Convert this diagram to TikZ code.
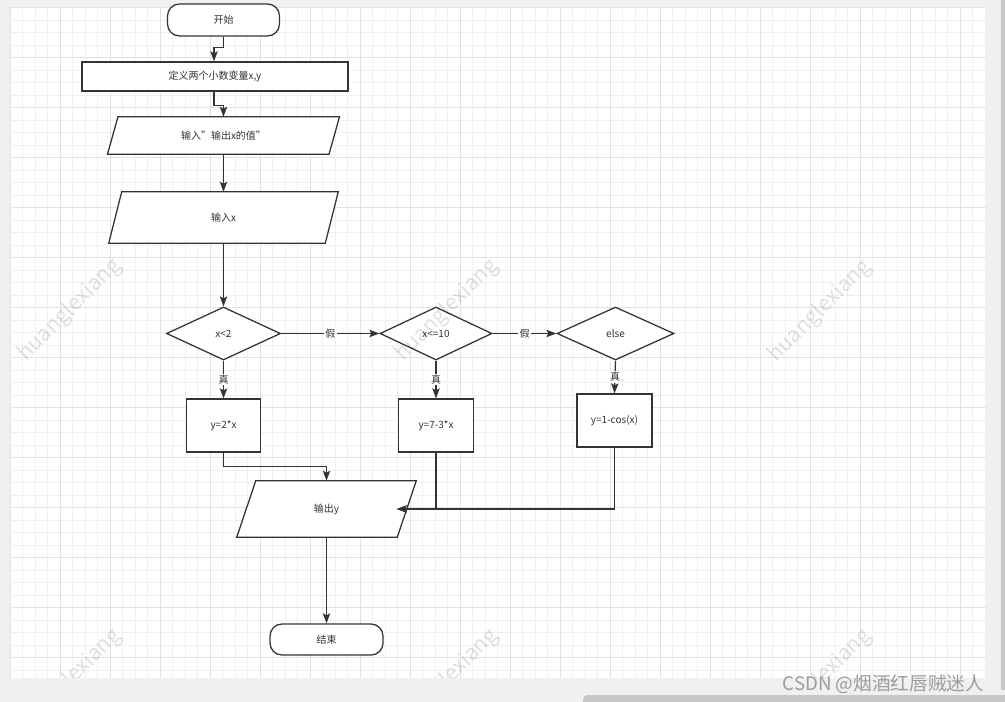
\documentclass[tikz,border=0pt]{standalone}
\usepackage{fontspec}
\setmainfont{Noto Sans CJK SC}
\usetikzlibrary{shapes.geometric,arrows.meta}
\definecolor{ink}{HTML}{333333}
\definecolor{minorgrid}{HTML}{F0F0F0}
\definecolor{majorgrid}{HTML}{E2E2E2}
\definecolor{frame}{HTML}{F0F0F0}
\definecolor{barcol}{HTML}{C8C8C8}
\definecolor{csdn}{HTML}{9C9C9C}
\begin{document}
\begin{tikzpicture}[x=0.75pt,y=-0.75pt,
  txt/.style={font=\fontsize{7.5}{9}\selectfont, text=ink},
  shp/.style={txt, draw=ink, line width=0.95pt, fill=white, inner sep=0pt},
  term/.style={shp, rectangle, rounded corners=9pt},
  box/.style={shp, rectangle},
  dia/.style={shp, diamond},
  para/.style={txt, rectangle, draw=none, inner sep=0pt},
  paraline/.style={draw=ink, line width=0.95pt, fill=white},
  arr/.style={draw=ink, line width=0.95pt, -{Stealth[length=7.5pt,width=5.5pt,inset=1.5pt]}},
  lbl/.style={txt, fill=white, inner sep=1pt},
  minorl/.style={draw=minorgrid, line width=0.75pt},
  majorl/.style={draw=majorgrid, line width=0.75pt},
  wm/.style={font=\fontsize{16}{18}\selectfont, text=black, opacity=0.12, rotate=45}
]
\useasboundingbox (0,0) rectangle (1005,702);
% frame and canvas
\fill[frame] (0,0) rectangle (1005,702);
\fill[barcol] (1001,0) rectangle (1005,690);
\fill[barcol, rounded corners=3pt] (583,695) rectangle (1010,708);
\fill[white] (10,7.7) rectangle (985.5,677.7);
% grid
\foreach \i in {0,...,78}{\pgfmathsetmacro\xx{10+12.5*\i}\draw[minorl] (\xx,7.7) -- (\xx,677.7);}
\foreach \j in {0,...,53}{\pgfmathsetmacro\yy{7.7+12.5*\j}\draw[minorl] (10,\yy) -- (985.5,\yy);}
\foreach \i in {0,4,...,76}{\pgfmathsetmacro\xx{10+12.5*\i}\draw[majorl] (\xx,7.7) -- (\xx,677.7);}
\foreach \j in {0,4,...,52}{\pgfmathsetmacro\yy{7.7+12.5*\j}\draw[majorl] (10,\yy) -- (985.5,\yy);}

% nodes
\node[term, minimum width=84pt, minimum height=24pt] (start) at (223.5,20) {开始};
\node[box, minimum width=199.5pt, minimum height=21.75pt] (def) at (215,76.5) {定义两个小数变量x,y};

\node[para, minimum width=165.75pt, minimum height=27.75pt] (p1) at (223.5,135.5) {};
\draw[paraline] ([xshift=3.94pt]p1.north west) -- ([xshift=3.94pt]p1.north east) -- ([xshift=-3.94pt]p1.south east) -- ([xshift=-3.94pt]p1.south west) -- cycle;
\node[txt] at (p1.center) {输入"输出x的值"};

\node[para, minimum width=162pt, minimum height=38.25pt] (p2) at (223.5,217.5) {};
\draw[paraline] ([xshift=4.875pt]p2.north west) -- ([xshift=4.875pt]p2.north east) -- ([xshift=-4.875pt]p2.south east) -- ([xshift=-4.875pt]p2.south west) -- cycle;
\node[txt] at (p2.center) {输入x};

\node[dia, minimum width=85.5pt, minimum height=39.75pt] (d1) at (223.5,333.5) {x<2};
\node[dia, minimum width=84pt, minimum height=39.75pt] (d2) at (436,333.5) {x<=10};
\node[dia, minimum width=87.75pt, minimum height=39.75pt] (d3) at (615.5,333.5) {else};

\node[box, minimum width=55.5pt, minimum height=39.75pt] (b1) at (223.5,425.5) {y=2*x};
\node[box, minimum width=56.25pt, minimum height=39.75pt] (b2) at (436,425.5) {y=7-3*x};
\node[box, minimum width=56.25pt, minimum height=39.75pt] (b3) at (614.5,420.5) {y=1-cos(x)};

\node[para, minimum width=120pt, minimum height=42pt] (out) at (326.5,509) {};
\draw[paraline] ([xshift=7.125pt]out.north west) -- ([xshift=7.125pt]out.north east) -- ([xshift=-7.125pt]out.south east) -- ([xshift=-7.125pt]out.south west) -- cycle;
\node[txt] at (out.center) {输出y};

\node[term, minimum width=84.75pt, minimum height=23.25pt] (end) at (326.5,639.5) {结束};

% connectors
\draw[arr] (start.south) -- ++(0,11) -| ([xshift=-0.75pt]def.north);
\draw[arr] ([xshift=-0.75pt]def.south) -- ++(0,14) -| (p1.north);
\draw[arr] (p1.south) -- (p2.north);
\draw[arr] (p2.south) -- (d1.north);
\draw[arr] (d1.east) -- node[lbl] {假} (d2.west);
\draw[arr] (d2.east) -- node[lbl] {假} (d3.west);
\draw[arr] (d1.south) -- node[lbl] {真} (b1.north);
\draw[arr] (d2.south) -- node[lbl] {真} (b2.north);
\draw[arr] (d3.south) -- node[lbl] {真} (b3.north);
\draw[arr] (b1.south) -- ++(0,13.5) -| (out.north);
\draw[arr, shorten >=-7.5pt] (b2.south) |- (out.east);
\draw[arr, shorten >=-7.5pt] (b3.south) |- (out.east);
\draw[arr] (out.south) -- (end.north);

% watermarks
\begin{scope}
\clip (10,7.7) rectangle (985.5,677.7);
\foreach \wx/\wy in {70/310, 447/310, 820/311}
  \node[wm] at (\wx,\wy) {huanglexiang};
\foreach \wx/\wy in {70/680, 447/680, 820/680}
  \node[wm] at (\wx,\wy) {\phantom{huang}lexiang};
\end{scope}

% CSDN mark
\node[font=\fontsize{14}{16}\selectfont, text=csdn] (csdnmark) at (883.5,684.5) {CSDN @烟酒红唇贼迷人};
\end{tikzpicture}
\end{document}
